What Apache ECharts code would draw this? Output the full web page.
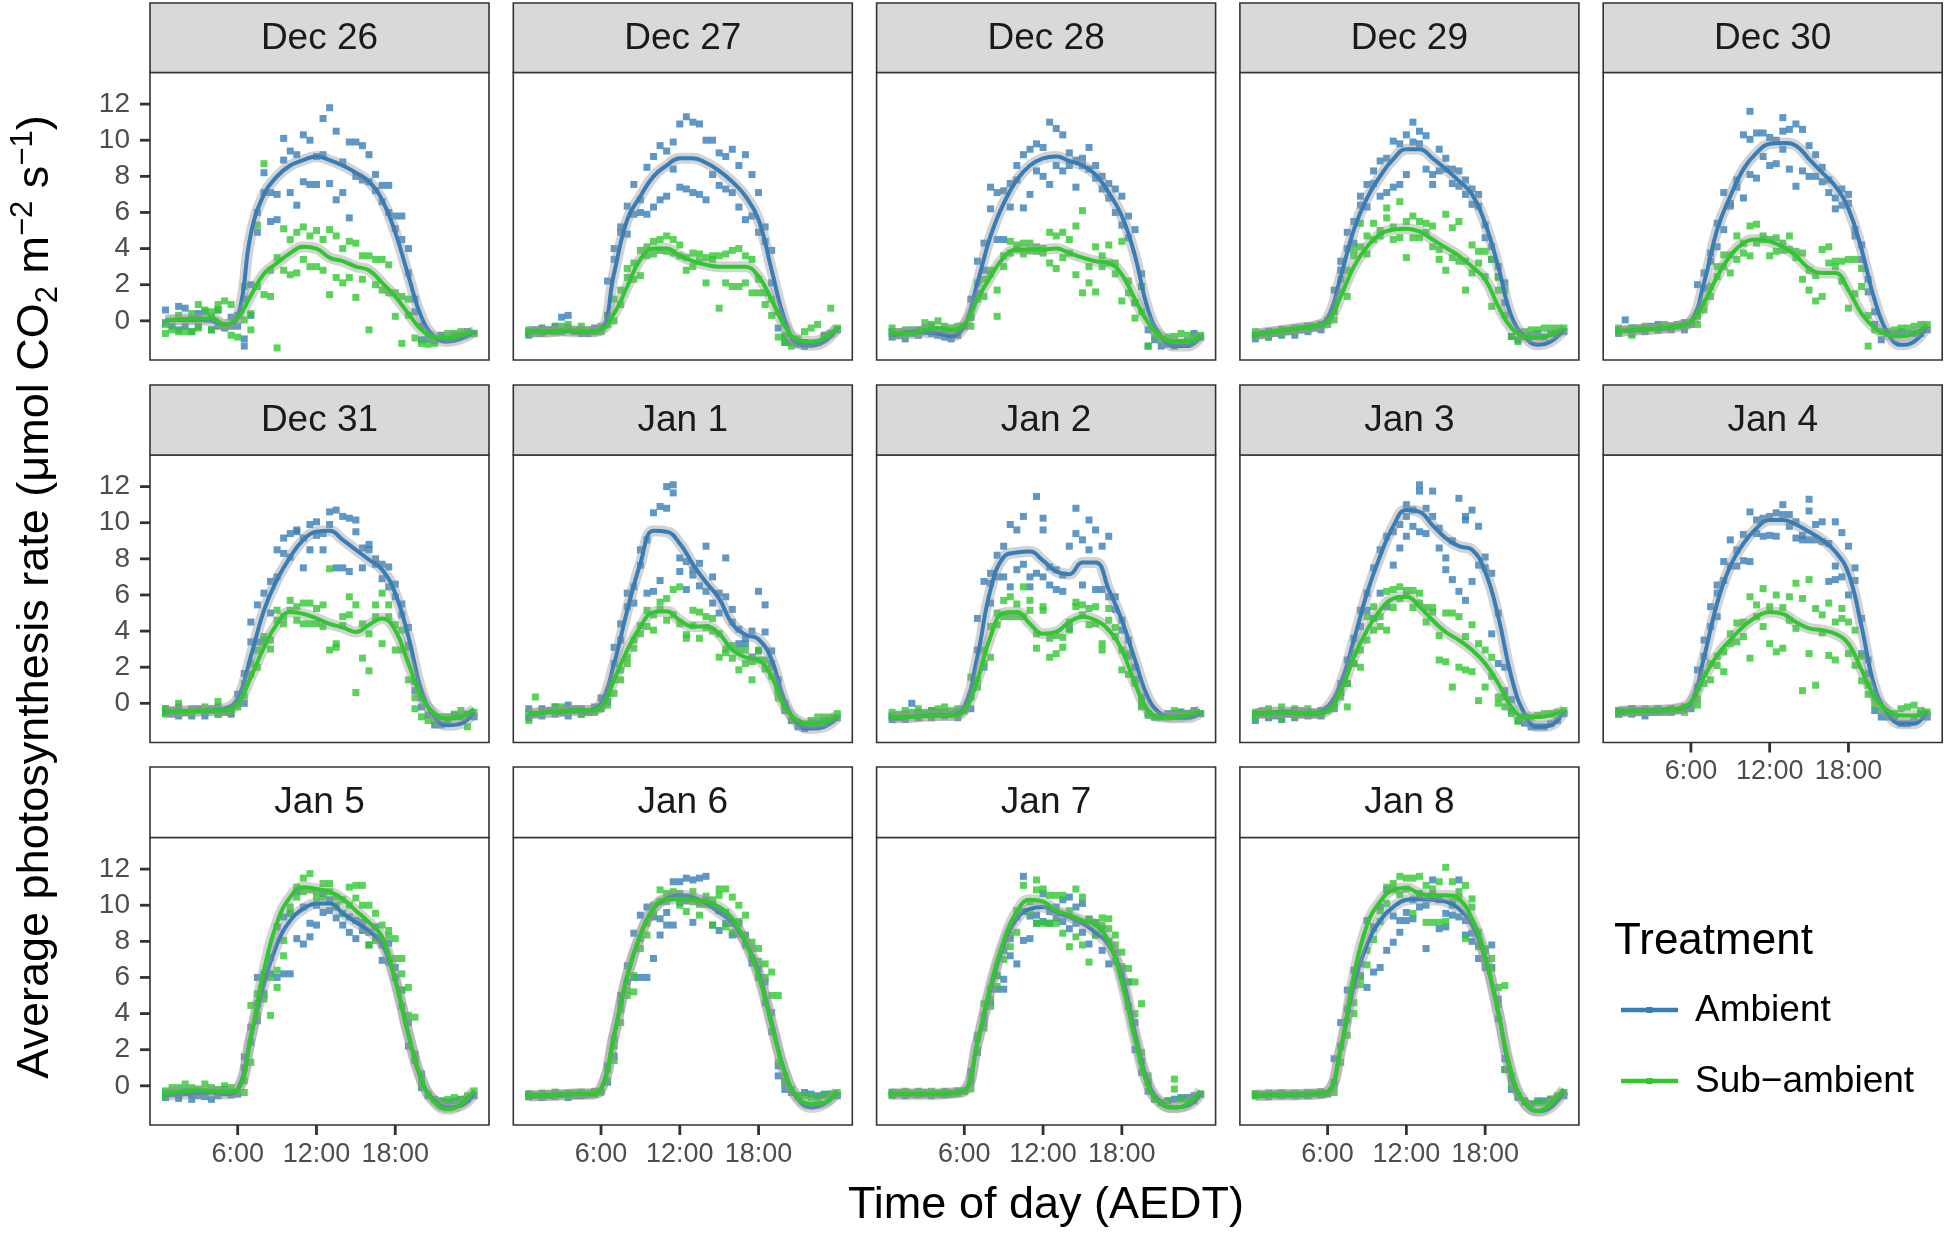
<!DOCTYPE html>
<html><head><meta charset="utf-8">
<script src="https://cdn.jsdelivr.net/npm/echarts@6/dist/echarts.min.js"></script>
<style>html,body{margin:0;padding:0;background:#fff}#c{width:1946px;height:1234px}</style>
</head><body><div id="c"></div>
<script>
// ---------- categories / ticks ----------
const panelNames = ['Dec 26','Dec 27','Dec 28','Dec 29','Dec 30','Dec 31','Jan 1','Jan 2','Jan 3','Jan 4','Jan 5','Jan 6','Jan 7','Jan 8'];
const smoothHours = [0.5,1,2,3,4,5,6,7,8,9,10,11,12,13,14,15,16,17,18,19,20,21,22,23,24];
const xTickValues = [6,12,18];
const yTickValues = [0,2,4,6,8,10,12];
const legendLabels = ['Ambient','Sub\u2212ambient'];

// ---------- smoothed curves (hourly) ----------
const dec26_amb_line=[0.05,0.05,0.05,0.05,0.0,-0.2,0.2,4.8,7.0,8.0,8.6,8.9,9.1,8.9,8.6,8.2,7.7,6.7,4.9,2.5,0.2,-0.9,-1.15,-1.0,-0.6];
const dec26_sub_line=[0.0,0.05,0.1,0.1,0.15,-0.2,0.15,1.4,2.6,3.2,3.75,4.1,4.0,3.5,3.3,3.0,2.8,2.1,1.35,0.4,-0.5,-0.9,-0.95,-0.8,-0.6];
const dec27_amb_line=[-0.6,-0.6,-0.6,-0.55,-0.6,-0.6,-0.5,2.65,5.6,6.9,8.0,8.6,9.0,9.0,8.75,8.3,7.7,6.9,5.6,2.8,0.05,-1.25,-1.35,-1.15,-0.4];
const dec27_sub_line=[-0.6,-0.6,-0.6,-0.55,-0.55,-0.6,-0.5,0.4,1.9,3.4,4.0,4.0,3.6,3.3,3.1,3.0,3.0,3.0,2.45,1.15,-0.3,-1.05,-1.15,-0.95,-0.4];
const dec28_amb_line=[-0.78,-0.75,-0.6,-0.65,-0.7,-0.85,-0.3,2.1,4.7,6.5,7.8,8.6,9.0,9.1,8.85,8.6,8.1,7.1,5.8,3.6,0.6,-0.87,-1.4,-1.4,-0.87];
const dec28_sub_line=[-0.7,-0.7,-0.7,-0.5,-0.4,-0.5,-0.2,1.2,2.45,3.5,3.95,3.95,3.95,4.0,3.75,3.5,3.3,3.2,2.55,1.2,-0.1,-0.87,-1.15,-1.15,-0.8];
const dec29_amb_line=[-0.78,-0.7,-0.6,-0.5,-0.4,-0.3,0.15,2.45,5.05,6.8,8.0,8.95,9.5,9.5,9.0,8.4,7.75,7.0,5.4,3.0,0.25,-0.87,-1.33,-1.15,-0.5];
const dec29_sub_line=[-0.78,-0.7,-0.6,-0.5,-0.4,-0.3,-0.05,1.35,3.0,4.1,4.8,5.05,5.1,4.95,4.5,4.05,3.6,3.0,2.3,0.8,-0.4,-0.87,-0.95,-0.78,-0.4];
const dec30_amb_line=[-0.6,-0.55,-0.5,-0.45,-0.4,-0.3,-0.05,2.1,5.05,6.9,8.4,9.3,9.8,9.85,9.7,8.95,8.2,7.45,6.2,3.95,1.15,-0.7,-1.33,-1.15,-0.3];
const dec30_sub_line=[-0.6,-0.55,-0.5,-0.45,-0.4,-0.3,-0.05,1.0,2.45,3.6,4.3,4.5,4.4,4.1,3.6,2.9,2.65,2.65,1.7,0.4,-0.4,-0.78,-0.87,-0.7,-0.2];
const dec31_amb_line=[-0.48,-0.45,-0.43,-0.42,-0.4,-0.3,0.25,2.6,5.15,6.85,8.1,9.05,9.5,9.55,9.05,8.5,7.95,7.4,6.1,3.7,0.7,-0.76,-1.22,-1.13,-0.48];
const dec31_sub_line=[-0.48,-0.45,-0.43,-0.42,-0.4,-0.4,0.0,1.45,3.1,4.4,5.05,4.95,4.7,4.4,4.2,3.95,4.35,4.7,4.05,2.2,0.35,-0.57,-0.85,-0.76,-0.3];
const jan1_amb_line=[-0.57,-0.55,-0.5,-0.45,-0.4,-0.4,0.0,2.2,5.15,7.75,9.55,9.5,8.85,7.7,6.7,5.8,4.4,3.8,3.55,2.4,0.1,-1.13,-1.4,-1.3,-0.76];
const jan1_sub_line=[-0.57,-0.55,-0.5,-0.45,-0.4,-0.4,-0.2,1.3,2.95,4.25,5.05,5.1,4.6,4.25,4.25,3.85,2.95,2.55,2.4,1.45,-0.2,-0.95,-1.13,-1.05,-0.67];
const jan2_amb_line=[-0.85,-0.8,-0.76,-0.7,-0.67,-0.67,-0.2,2.6,6.3,8.1,8.35,8.4,7.9,7.3,7.15,7.8,7.8,6.3,4.6,2.4,0.3,-0.6,-0.8,-0.8,-0.5];
const jan2_sub_line=[-0.76,-0.76,-0.76,-0.7,-0.67,-0.67,-0.4,1.3,3.7,5.0,5.05,4.4,3.85,3.95,4.5,4.8,4.6,4.05,2.95,1.1,-0.4,-0.76,-0.76,-0.67,-0.4];
const jan3_amb_line=[-0.57,-0.57,-0.5,-0.5,-0.57,-0.57,-0.2,1.1,3.5,6.1,8.15,9.8,10.7,10.6,9.85,9.15,8.7,8.5,7.3,4.8,1.45,-0.57,-1.3,-1.22,-0.4];
const jan3_sub_line=[-0.57,-0.57,-0.5,-0.5,-0.57,-0.57,-0.4,0.7,2.55,4.05,5.15,5.8,5.9,5.35,4.6,3.95,3.5,2.95,2.2,1.1,-0.2,-0.76,-0.76,-0.67,-0.4];
const jan4_amb_line=[-0.48,-0.45,-0.4,-0.4,-0.35,-0.3,0.0,2.55,5.55,7.6,8.85,9.7,10.15,10.15,9.9,9.5,9.05,8.4,7.2,4.25,0.9,-0.57,-1.13,-1.13,-0.4];
const jan4_sub_line=[-0.43,-0.43,-0.43,-0.4,-0.4,-0.3,0.07,1.45,2.65,3.5,4.25,4.8,5.05,4.95,4.5,4.15,4.05,3.85,3.3,1.85,0.35,-0.4,-0.67,-0.67,-0.4];
const jan5_amb_line=[-0.55,-0.5,-0.46,-0.4,-0.37,-0.46,-0.2,2.7,5.65,7.85,9.15,9.8,10.1,10.1,9.55,9.05,8.6,7.85,5.85,2.85,0.28,-0.83,-1.2,-1.1,-0.46];
const jan5_sub_line=[-0.46,-0.4,-0.3,-0.25,-0.3,-0.35,-0.2,2.7,6.4,9.05,10.45,11.0,10.9,10.75,10.35,9.7,9.05,8.25,5.85,2.85,0.37,-0.93,-1.3,-1.0,-0.28];
const jan6_amb_line=[-0.55,-0.55,-0.52,-0.5,-0.46,-0.46,-0.18,2.8,6.1,8.35,9.8,10.35,10.55,10.45,10.1,9.6,9.05,7.95,6.3,3.5,0.75,-0.74,-1.2,-1.0,-0.37];
const jan6_sub_line=[-0.55,-0.55,-0.52,-0.5,-0.46,-0.46,-0.18,2.8,6.1,8.35,9.8,10.35,10.35,10.3,10.2,9.9,9.25,7.95,6.1,3.35,0.75,-0.65,-1.0,-0.93,-0.28];
const jan7_amb_line=[-0.46,-0.46,-0.46,-0.46,-0.46,-0.4,-0.28,2.4,5.35,7.8,9.25,9.8,9.9,9.6,9.35,9.0,8.5,7.8,6.1,2.95,0.18,-0.93,-1.2,-1.1,-0.46];
const jan7_sub_line=[-0.46,-0.46,-0.46,-0.46,-0.46,-0.4,-0.28,2.4,5.55,8.0,9.65,10.3,10.2,9.7,9.45,9.15,8.9,8.0,5.75,2.6,0.0,-1.0,-1.2,-1.0,-0.28];
const jan8_amb_line=[-0.52,-0.52,-0.5,-0.5,-0.48,-0.45,-0.33,2.05,5.55,7.8,9.15,9.9,10.3,10.35,10.3,10.2,9.8,8.9,7.05,4.05,0.55,-0.93,-1.4,-1.2,-0.28];
const jan8_sub_line=[-0.52,-0.52,-0.5,-0.5,-0.48,-0.45,-0.33,2.05,6.1,8.9,10.2,10.85,10.95,10.65,10.55,10.55,10.35,9.25,7.2,4.05,0.75,-0.93,-1.4,-1.0,-0.18];

// ---------- measured points: one entry per half hour (0.5 ... 24.0), several readings where given ----------
const dec26_amb_pts=[[0.6,-0.1],-0.3,[0.8,-0.5],[0.7,-0.3],[0.1,-0.6],[0.4,-0.3],0.5,[-0.5,0.2],[0.6,-0.3],-0.4,[0.2,-0.3],[-0.3,0.3],
[-1.4,-1.0,1.2],[2.0,0.3],[6.0,4.9],[8.2,7.1],[7.1,5.5],[7.0,5.6],[10.1,8.9],[9.4,7.1],[9.2,6.4],[10.3,7.7],[10.0,7.55],[9.1,7.55],
[11.2,9.2],[11.8,7.6],[10.5,6.7],[8.8,7.1],[9.9,5.7],[9.9,8.0],[9.7,7.8],[9.2,7.7],[8.1,7.2],[7.5,6.6],[7.5,6.0],[5.8,5.1],
[5.8,4.5],[4.0,2.65],[1.2,0.5],[-1.05,-0.3],-1.0,-1.1,-0.8,-1.0,-0.8,-0.8,-0.6,-0.7];
const dec26_sub_pts=[[-0.7,-0.2],-0.5,[-0.6,0.3],-0.6,[0.4,-0.6],[0.9,-0.4],0.6,[0.5,-0.5],[0.6,0.9],[1.1,-0.3],[-0.8,0.9],-0.9,
[0.05,1.9],[-0.5,0.4],[5.3,1.9],[8.7,1.45],[1.35,2.8],[-1.5,3.5],[5.1,2.8],[2.55,4.5],[4.9,2.65],[5.2,3.4],[4.7,3.0],[3.0,5.0],
[2.8,4.5],[5.05,1.45],[2.4,4.7],[4.0,2.1],[2.4,4.4],[4.3,1.3],[2.3,3.6],[-0.5,3.6],[3.4,2.0],[1.7,3.4],[3.1,1.55],[0.25,1.55],
[-1.25,1.35],[1.2,0.3],-0.95,-1.25,-1.3,-1.25,-0.9,-0.7,-0.7,-0.6,-0.7,-0.7];
const dec27_amb_pts=[[-0.6,-0.8],-0.5,[-0.7,-0.4],-0.5,[-0.6,-0.3],[0.2,-0.6],[0.3,-0.4],-0.6,[-0.5,-0.7],-0.7,[-0.6,-0.4],-0.4,
[2.2,0.3],[4.0,3.4],[5.2,4.9],[6.35,4.8],[7.55,5.9],[6.7,6.0],[8.5,5.9],[9.1,6.3],[9.7,6.7],[9.4,6.9],[9.9,8.4],[10.9,7.4],
[11.3,7.3],[11.0,7.1],[10.9,7.0],[10.0,6.7],[10.0,8.1],[9.3,7.5],[9.1,7.3],[9.5,7.1],[8.6,6.3],[9.2,5.6],[8.1,5.8],[7.1,4.9],
[5.2,4.4],[3.9,2.1],[-0.4,0.5],[-0.9,-1.2],-1.2,-1.3,[-1.2,-1.4],-1.3,-1.2,[-1.0,-0.8],-0.7,-0.5];
const dec27_sub_pts=[[-0.5,-0.7],-0.7,[-0.5,-0.6],-0.6,[-0.4,-0.6],-0.3,[-0.2,-0.5],-0.5,[-0.6,-0.3],-0.5,-0.6,[-0.3,-0.6],
[0.3,-0.2],[1.2,0.0],[1.7,0.9],[2.9,2.4],[3.2,2.3],[3.9,2.5],[4.1,3.6],[4.4,3.7],[4.5,3.9],[4.7,3.85],[4.5,3.75],[3.6,4.2],
[3.5,2.8],[3.0,3.75],[3.7,3.3],[2.1,3.5],[3.6,3.4],[0.7,3.6],[2.1,3.7],[3.9,1.9],[4.0,1.9],[3.6,2.1],[1.55,3.4],[2.3,1.55],
[1.55,0.9],[1.2,0.3],-0.9,[-1.15,-0.8],-1.4,-1.0,-0.6,-0.4,-0.2,-0.9,0.7,-0.4];
const dec28_amb_pts=[[-0.9,-0.6],-0.8,[-0.7,-1.0],-0.7,[-0.5,-0.8],-0.6,[-0.3,-0.7],-0.8,[-0.9,-0.5],-1.0,[-0.8,-0.6],-0.3,
[1.2,0.2],[3.3,1.5],[4.3,2.8],[7.4,6.2],[7.1,4.5],[7.2,4.5],[6.3,7.6],[8.6,7.8],[9.2,6.25],[9.5,7.0],[9.8,8.3],[9.6,8.0],
[11.0,7.55],[10.65,8.6],[10.3,8.3],[8.6,9.3],[7.4,8.9],[8.6,9.0],[9.6,8.4],[8.6,7.9],[7.3,8.0],[6.8,7.6],[7.3,6.0],[6.9,5.3],
[5.8,4.6],[5.05,1.0],[1.9,2.6],[-0.5,-1.4],-1.05,-1.4,-1.3,-1.4,-1.2,-1.15,-0.7,-0.9];
const dec28_sub_pts=[[-0.7,-0.4],-0.6,[-0.5,-0.8],-0.5,-0.6,[-0.1,-0.4],-0.2,[0.0,-0.5],-0.3,[-0.6,-0.4],-0.3,-0.3,
[0.2,-0.3],[1.2,2.1],[1.35,2.3],[2.8,2.6],[0.25,1.7],[3.0,3.6],[4.4,3.75],[3.95,4.2],[4.3,3.7],[4.3,3.9],[3.85,4.1],[3.75,4.0],
[3.2,4.9],[2.9,4.7],[4.9,3.5],[3.75,4.5],[5.25,2.55],[6.1,1.55],[3.0,2.1],[4.1,1.6],[3.6,3.0],[4.2,3.2],[3.2,2.6],[4.4,1.1],
[1.55,2.2],[0.15,1.0],[1.9,0.5],-1.4,-0.87,-1.05,-0.9,-0.87,-0.7,-0.8,-0.9,-0.8];
const dec29_amb_pts=[[-0.8,-1.0],-0.7,[-0.9,-0.6],-0.7,[-0.8,-0.5],-0.6,[-0.5,-0.8],-0.5,[-0.6,-0.3],-0.4,[-0.5,-0.2],0.0,
[1.7,0.5],[3.3,2.8],[4.9,4.0],[5.5,4.3],[6.9,6.4],[7.55,6.3],[8.3,7.6],[8.85,6.9],[9.0,7.1],[9.95,7.4],[9.8,7.55],[10.3,8.1],
[11.0,9.9],[10.5,9.8],[10.25,8.4],[8.1,7.55],[9.5,8.3],[8.4,9.0],[8.4,7.6],[7.45,8.3],[7.8,7.0],[7.3,6.45],[6.35,7.0],[5.3,4.6],
[4.1,3.4],[2.45,3.0],[2.1,1.0],-0.87,-1.05,-0.87,-0.8,-0.7,-0.9,-0.7,-0.7,-0.6];
const dec29_sub_pts=[[-0.8,-0.6],-0.8,[-0.6,-0.9],-0.6,[-0.5,-0.7],-0.5,[-0.4,-0.6],-0.4,[-0.3,-0.5],-0.3,-0.2,[0.0,-0.2],
[0.05,0.7],[1.6,2.3],[1.35,2.8],[3.6,3.95],[5.4,4.1],[4.7,3.7],[5.4,4.5],[4.7,5.0],[6.25,5.7],[4.5,5.2],[6.6,4.6],[3.5,5.5],
[5.8,4.6],[5.5,4.6],[5.4,4.9],[4.1,5.25],[3.95,3.4],[5.9,2.8],[5.15,3.5],[5.5,3.3],[3.3,1.7],[4.2,2.65],[3.85,3.2],[3.85,2.45],
[3.4,0.8],[2.4,1.7],[1.7,0.3],-0.87,-1.15,-0.6,-0.5,-0.5,-0.4,-0.4,-0.4,-0.4];
const dec30_amb_pts=[[-0.7,-0.5],0.05,[-0.7,-0.4],-0.5,[-0.4,-0.6],-0.3,[-0.5,-0.2],-0.4,[-0.3,-0.5],-0.3,[-0.5,-0.1],-0.2,
[2.0,0.4],[2.65,1.8],[3.75,3.3],[5.4,4.1],[5.05,7.1],[6.5,6.35],[7.8,7.4],[10.3,6.8],[11.6,10.05,8.1],[10.4,7.9],[10.4,9.1],[8.6,10.15],
[8.7,10.0],[11.25,10.5,9.5],[10.6,8.4],[10.9,7.45],[10.6,8.3],[8.0,9.7],[9.2,8.0],[8.5,7.7],[7.1,7.8],[6.8,6.2],[7.3,6.4],[7.0,6.5],
[5.05,4.7],[4.2,3.4],[2.3,1.6],[0.5,-0.2],-1.05,-0.7,-0.7,-0.6,-0.7,-0.7,-0.7,-0.5];
const dec30_sub_pts=[[-0.6,-0.4],-0.5,[-0.8,-0.4],-0.4,[-0.5,-0.3],-0.4,[-0.3,-0.5],-0.2,[-0.3,-0.4],-0.2,-0.3,-0.1,
[0.25,-0.2],[1.0,0.6],[1.9,1.35],[2.45,3.0],[3.65,3.0],[3.65,2.65],[4.7,3.4],[3.75,4.3],[5.25,3.6],[5.35,4.3],[4.7,4.5],[3.6,4.5],
[3.85,4.6],[4.3,3.9],[4.7,3.95],[3.85,3.5],[3.75,2.3],[1.7,2.8],[1.1,2.5],[1.35,3.95],[4.1,3.2],[3.3,3.0],[3.3,2.2],[0.7,3.4],
[3.4,1.5],[2.9,1.9],[-1.4,0.3],-0.5,-0.6,-0.6,-0.5,-0.4,-0.4,-0.3,-0.2,-0.2];
const dec31_amb_pts=[[-0.5,-0.3],-0.6,[-0.2,-0.7],-0.5,[-0.4,-0.7],-0.3,[-0.5,-0.7],-0.4,[-0.2,-0.6],-0.5,[-0.3,-0.6],[0.5,0.0],
[1.65,0.0],[3.4,4.5],[5.45,3.4],[6.1,3.5],[6.75,5.0],[8.5,7.0],[9.15,8.3],[9.4,8.1],[9.5,9.6],[9.15,7.5],[9.9,8.5],[10.05,9.3],
[9.4,8.5],[10.6,9.9],[10.7,7.5],[10.35,7.5],[10.25,7.3],[10.15,9.5],[8.6,7.5],[8.5,8.8],[8.0,7.7],[6.9,7.7],[7.55,6.45],[5.9,6.6],
[5.5,4.9],[4.2,3.2],[0.7,1.2],[-0.2,0.3],-0.65,-1.2,-1.2,-1.0,-0.65,-0.75,-0.6,-0.75];
const dec31_sub_pts=[[-0.6,-0.3],-0.4,[0.0,-0.6],-0.5,[-0.3,-0.6],-0.4,[-0.2,-0.5],-0.3,[0.1,-0.6],-0.4,[-0.3,-0.5],-0.2,
[1.1,0.4],[2.2,1.6],[2.95,2.0],[3.3,3.7],[3.5,3.0],[4.6,5.15],[4.8,4.4],[5.7,5.15],[5.35,4.6],[5.55,4.4],[5.55,4.4],[5.25,4.4],
[4.25,5.45],[7.45,2.95],[3.1,3.3],[4.8,4.3],[5.9,4.9],[5.45,0.6],[2.5,4.4],[1.8,3.85],[5.45,4.8],[3.3,6.1],[5.45,4.8],[4.35,2.95],
[2.95,4.05],[3.1,1.3],[0.3,-0.3],-0.75,-0.95,-1.0,-0.75,-0.75,-0.6,-0.4,-1.3,-0.5];
const jan1_amb_pts=[[-0.3,-0.8],-0.6,[-0.3,-0.7],-0.4,[-0.2,-0.6],-0.5,[-0.1,-0.7],-0.4,[-0.3,-0.6],-0.5,[-0.4,-0.2],[0.3,-0.3],
[0.55,0.1],[2.2,3.1],[4.4,3.5],[5.35,6.1],[6.45,5.55],[7.65,8.5],[9.05,6.1],[10.55,6.2],[10.9,6.8],[10.8,12.0],[12.1,11.65],[7.3,8.05],
[7.85,6.3],[7.4,7.1],[7.75,6.5],[8.7,6.2],[5.55,7.0],[6.1,5.0],[8.05,5.9],[4.5,5.2],[3.3,4.1],[3.6,3.3],[2.55,4.0],[6.2,2.9],
[5.45,3.95],[2.2,2.9],[0.7,1.3],[0.0,-0.4],-0.95,-1.3,-1.4,-1.1,-1.1,-0.95,-0.95,-0.8];
const jan1_sub_pts=[[-0.95,-0.5],0.35,[-0.57,-0.4],-0.4,[-0.2,-0.5],-0.2,[-0.4,-0.5],-0.3,[-0.4,-0.6],-0.5,[-0.3,-0.5],-0.3,
[0.55,-0.1],[0.55,1.3],[1.85,1.3],[2.55,2.2],[3.05,3.5],[3.85,4.3],[4.25,5.15],[4.9,4.05],[5.6,5.2],[5.8,4.6],[6.3,4.9],[6.45,4.4],
[3.6,3.8],[5.15,4.3],[5.05,3.6],[4.8,4.2],[4.7,4.0],[3.85,2.55],[3.0,2.8],[3.2,2.5],[2.95,1.85],[2.95,2.2],[1.3,2.3],[2.95,2.4],
[2.4,1.9],[2.0,1.5],[0.7,0.3],-0.2,-0.95,-1.05,-1.13,-0.95,-0.76,-0.76,-0.76,-0.57];
const jan2_amb_pts=[[-0.9,-0.7],-0.8,[-0.6,-0.9],0.0,[-0.5,-0.8],-0.6,[-0.4,-0.8],-0.5,[-0.7,-0.6],-0.6,[-0.8,-0.5],-0.4,
[0.35,-0.3],[4.7,2.95],[6.75,2.0],[6.65,5.55,7.2],[8.2,7.0],[8.7,7.0],[9.9,6.45],[9.6,7.4],[10.35,7.7],[7.0,6.45],[11.45,7.2],[10.25,9.6,7.0],
[7.55,6.55],[7.4,6.3],[6.2,7.1],[8.7,4.15],[10.8,9.4],[9.05,6.55],[10.15,8.5],[9.6,6.3],[8.7,6.3],[9.25,5.9],[5.9,5.2],[4.05,4.6],
[3.5,2.6],[2.0,1.3],[0.35,-0.1],-0.57,-0.76,-0.76,-0.57,-0.57,-0.48,-0.57,-0.4,-0.57];
const jan2_sub_pts=[[-0.76,-0.5],-0.6,[-0.7,-0.4],-0.5,[-0.3,-0.6],-0.5,[-0.4,-0.7],-0.3,[-0.5,-0.2],-0.4,[-0.5,-0.3],-0.3,
[1.45,0.4],[1.3,0.9],[2.95,2.2],[2.55,4.25],[5.0,4.35],[5.7,4.8],[4.8,5.9],[4.8,5.5],[6.45,4.8],[5.7,5.15],[3.05,3.85],[5.35,5.15],
[2.55,3.6],[2.75,3.75],[3.1,3.65],[4.05,4.5],[5.35,5.6],[4.9,5.45],[5.25,4.35],[5.35,4.4],[3.3,2.95],[5.25,4.6],[3.7,4.2],[2.95,1.85],
[2.75,1.6],[1.1,1.3],[0.0,-0.2],-0.67,-0.76,-0.76,-0.76,-0.4,-0.5,-0.57,-0.57,-0.57];
const jan3_amb_pts=[[-0.6,-0.95],-0.6,[-0.8,-0.5],-0.7,[-0.5,-0.9],-0.6,[-0.4,-0.8],-0.6,[-0.7,-0.5],-0.6,[-0.4,-0.7],-0.3,
[0.0,-0.3],[1.1,0.6],[2.4,1.1],[3.6,2.2],[5.15,4.25],[6.1,5.15],[7.5,4.7],[8.5,6.1],[9.25,5.35],[9.5,7.65],[9.9,8.6],[11.0,10.35,9.25],
[10.7,9.8],[12.1,11.75,9.5],[10.8,9.4],[11.75,10.35],[9.7,8.6],[8.05,7.4],[6.85,9.0],[6.2,11.35],[10.15,5.7,10.35],[10.7,6.75],[9.8,7.65],[8.1,7.5],
[7.2,3.85],[5.0,2.2],[0.7,2.0],[-0.4,0.2],-0.95,-1.1,-1.3,-1.3,-1.3,-1.13,-0.95,-0.57];
const jan3_sub_pts=[[-0.5,-0.8],-0.4,[-0.7,-0.3],-0.6,[-0.2,-0.8],-0.5,[-0.3,-0.7],-0.4,[-0.6,-0.3],-0.5,[-0.4,-0.6],-0.4,
[-0.2,0.1],[0.35,0.9],[-0.2,1.1],[2.2,2.75],[2.95,2.0],[3.5,4.8],[4.05,5.35],[4.8,4.25],[6.2,4.05],[6.3,5.3],[6.45,5.8],[6.25,6.0],
[6.25,5.3],[6.1,5.55],[5.3,4.5],[5.05,5.3],[2.4,3.75],[2.3,5.0],[0.9,5.0],[4.8,2.0],[1.85,3.7],[4.35,1.75],[0.15,3.3],[2.95,0.9],
[2.55,1.5],[0.0,0.35],[0.35,-0.2],-0.57,-1.0,-0.76,-0.76,-0.67,-0.57,-0.57,-0.5,-0.4];
const jan4_amb_pts=[[-0.6,-0.4],-0.5,[-0.3,-0.6],-0.5,[-0.4,-0.7],-0.5,[-0.3,-0.5],-0.4,[-0.5,-0.3],-0.4,[-0.3,-0.2],-0.3,
[1.85,0.9],[3.5,2.6],[5.35,4.25],[6.1,4.8,6.55],[7.85,6.8],[9.05,7.6],[8.5,7.6],[9.35,7.9],[10.6,7.85],[10.15,9.4],[10.25,9.25],[10.35,9.3],
[10.55,9.25],[11.0,10.45],[10.45,9.8],[10.05,9.15],[9.05,9.3],[11.3,10.65,9.05],[9.9,9.05],[10.05,8.95],[8.85,6.75],[10.05,7.6,6.85],[9.45,7.0],[8.7,6.0],
[7.5,6.8],[4.7,2.75],[1.65,2.4],[-0.4,0.5],-0.76,-0.76,-0.76,-1.13,-1.13,-0.85,-0.57,-0.76];
const jan4_sub_pts=[[-0.4,-0.6],-0.4,[-0.5,-0.3],-0.4,[-0.3,-0.5],-0.4,[-0.4,-0.3],-0.5,[-0.3,-0.4],-0.4,[-0.3,-0.5],-0.2,
[0.25,-0.1],[1.65,1.1],[2.2,1.3],[2.1,2.6],[2.85,1.75],[3.85,3.3],[4.45,3.4],[4.5,3.7],[2.5,5.9],[5.45,4.8],[6.35,4.25],[3.3,5.35],
[6.0,2.85],[3.05,5.3],[5.9,4.6],[6.65,4.15],[5.8,0.7],[6.85,2.75],[1.0,5.25],[4.9,3.9],[5.55,2.65],[2.4,4.5],[5.25,4.7],[4.5,2.75],
[4.05,2.1],[1.25,2.6],[1.0,0.5],[0.25,-0.1],-0.4,-0.57,-0.57,-0.3,-0.2,-0.1,-0.4,-0.48];
const jan5_amb_pts=[[-0.65,-0.4],-0.37,[-0.55,-0.7],-0.28,[-0.75,-0.5],-0.55,[-0.37,-0.6],-0.75,[-0.55,-0.4],-0.2,[-0.37,-0.5],-0.46,
[1.0,1.6],[3.25,2.4],[4.55,3.6,6.0],[6.2,5.1],[7.1,6.2],[8.8,6.0],[6.2,9.35],[6.2,9.55],[10.75,8.15],[7.85,9.9],[8.25,9.0],[8.9,10.0],
[10.65,9.6],[10.3,9.7],[9.9,9.3],[8.9,9.55],[8.5,9.35],[8.15,9.15],[9.05,8.6],[7.8,8.5],[8.8,8.2],[6.95,7.8],[6.85,7.9],[6.0,6.55],
[5.3,4.4],[3.5,2.2],[1.4,1.75],[0.65,-0.1],-0.55,-0.75,-0.85,-0.9,-0.85,-0.75,-0.75,-0.55];
const jan5_sub_pts=[[-0.28,-0.55],-0.1,[-0.1,-0.4],0.1,[-0.1,-0.3],-0.2,[0.1,-0.3],-0.1,[-0.37,-0.2],0.0,[-0.1,-0.4],-0.37,
[0.28,-0.37],[1.3,4.45],[5.1,3.9],[5.0,4.8],[3.9,6.0],[5.45,6.4],[8.05,7.2],[9.55,9.9],[11.0,10.45],[11.5,10.75],[11.75,10.85],[10.75,10.4],
[11.2,10.45],[11.2,10.75],[10.45,10.0],[10.3,9.55],[11.0,10.0],[11.1,10.4],[11.1,10.0],[10.0,7.8],[9.55,8.05],[8.9,7.9],[8.6,8.3],[8.15,7.05],
[7.05,6.2,5.3],[5.45,3.9],[3.8,1.4],[0.0,0.28],-0.46,-0.75,-0.83,-0.75,-0.65,-0.75,-0.55,-0.28];
const jan6_amb_pts=[[-0.6,-0.45],-0.55,[-0.45,-0.65],-0.55,[-0.6,-0.4],-0.5,[-0.65,-0.45],-0.55,[-0.4,-0.55],-0.5,[-0.45,-0.35],-0.35,
[0.2,1.1],[1.65,2.6],[5.0,4.6],[6.65,5.75],[8.45,6.0],[9.45,6.0],[9.9,6.0],[9.35,7.05],[8.35,9.25],[8.9,9.6],[11.3,8.9],[11.3,10.15],
[11.5,10.25],[11.4,9.05],[11.5,10.15],[11.6,10.25],[8.9,10.0],[8.6,9.7],[9.6,9.0],[9.0,8.35],[9.0,8.4],[8.35,7.8],[7.05,6.8],[6.5,6.0],
[5.75,4.6],[4.05,3.0],[1.1,0.55],[0.2,-0.2],-0.37,-0.55,-0.37,-0.46,-0.55,-0.46,-0.46,-0.55];
const jan6_sub_pts=[[-0.45,-0.6],-0.5,[-0.4,-0.55],-0.45,[-0.5,-0.35],-0.45,[-0.55,-0.4],-0.4,[-0.35,-0.5],-0.4,[-0.3,-0.45],-0.3,
[0.9,0.3],[1.4,2.2],[3.5,4.2],[5.0,5.3],[6.1,5.2],[7.6,8.15],[8.35,9.0],[10.0,9.5],[10.2,10.85],[10.65,10.2],[10.75,10.4],[10.65,10.0],
[9.65,10.45],[10.75,10.2],[9.45,10.05],[10.05,10.5],[8.9,10.3],[10.9,10.55],[10.9,8.8],[10.45,8.5],[10.0,9.1],[9.45,8.2],[7.95,7.6],[7.6,6.9],
[6.75,6.0],[6.3,5.0],[5.0,1.3],[0.55,0.2],-0.2,-0.55,-0.55,-0.65,-0.74,-0.55,-0.46,-0.37];
const jan7_amb_pts=[[-0.5,-0.35],-0.46,[-0.4,-0.55],-0.46,[-0.5,-0.37],-0.46,[-0.4,-0.55],-0.46,[-0.37,-0.5],-0.46,[-0.4,-0.3],-0.28,
[0.2,0.8],[1.85,2.6],[3.9,3.5],[5.35,4.6],[6.1,5.35],[7.5,5.9,5.35],[8.15,7.2],[9.35,6.75],[11.6,9.65,8.05],[8.15,9.4],[9.0,9.45],[10.65,9.1],
[9.65,9.0],[9.9,9.3],[10.3,9.1],[10.45,8.7],[9.0,9.9],[8.5,10.1],[7.85,9.2],[8.35,9.0],[8.7,7.5],[6.75,8.0],[7.4,6.9],[6.1,6.5],
[5.75,4.4],[3.5,2.0],[0.75,1.4],[0.2,-0.3],-0.74,-0.93,-0.83,-0.74,-0.65,-0.65,-0.55,-0.46];
const jan7_sub_pts=[[-0.4,-0.55],-0.37,[-0.46,-0.3],-0.4,[-0.3,-0.46],-0.37,[-0.3,-0.5],-0.4,[-0.3,-0.46],-0.37,[-0.3,-0.4],-0.3,
[-0.18,0.5],[2.0,2.8],[4.55,3.2],[4.8,4.4],[6.1,5.5],[7.6,7.0],[8.35,7.7],[8.5,9.7],[11.1,9.65],[9.65,10.2],[11.4,10.85,9.0],[10.9,9.0],
[10.55,9.0],[10.55,9.0],[10.55,8.45],[7.7,9.7],[10.9,8.25],[10.45,7.8],[9.25,6.85],[9.05,8.35],[9.3,8.9],[9.25,8.7],[8.35,7.8],[7.4,6.6],
[6.5,5.75],[5.75,4.0],[4.55,1.85],[0.55,0.2],-0.74,-0.93,-0.83,[0.37,-0.18],-0.74,-0.83,-0.83,-0.46];
const jan8_amb_pts=[[-0.55,-0.45],-0.5,[-0.45,-0.6],-0.5,[-0.55,-0.4],-0.5,[-0.45,-0.55],-0.5,[-0.4,-0.55],-0.45,[-0.5,-0.35],-0.45,
[1.5,0.2],[3.5,2.2],[5.3,4.25],[6.4,5.55],[6.75,6.1],[9.15,5.45],[8.8,6.3],[9.9,6.55],[10.85,7.5],[7.95,9.4],[9.15,8.5],[9.15,9.6],
[9.25,10.3],[10.65,9.9],[7.6,10.0],[11.4,10.6],[8.7,10.3],[9.55,8.8],[9.45,10.0],[11.4,9.35],[9.15,8.35],[8.45,8.0],[7.05,7.8],[6.55,7.5],
[7.8,6.55],[4.8,3.7],[1.5,0.9],[0.37,-0.2],-0.65,-0.83,-1.0,-0.83,-0.83,-0.74,-0.65,-0.55];
const jan8_sub_pts=[[-0.45,-0.55],-0.5,[-0.4,-0.5],-0.45,[-0.5,-0.4],-0.45,[-0.4,-0.5],-0.45,[-0.4,-0.5],-0.4,[-0.45,-0.35],-0.4,
[0.0,-0.37],[1.3,2.2],[2.8,3.6],[4.6,4.0],[6.0,5.6],[7.5,6.7],[8.7,8.1],[9.7,9.1],[10.1,11.0],[10.85,11.2],[11.6,10.6],[11.5,10.9],
[11.5,9.55],[11.6,10.4],[11.1,9.05],[10.9,9.05],[11.3,9.05],[12.1,9.1],[11.3,10.2],[10.75,10.4],[11.1,8.15],[10.35,9.9],[7.7,8.5],[6.95,7.6],
[7.05,6.5],[5.45,4.5],[5.55,0.9],[0.55,0.0],-0.55,-0.93,-1.0,-0.93,-0.93,-0.74,-0.55,-0.37];

const panelSeries = [
  [dec26_amb_line, dec26_sub_line, dec26_amb_pts, dec26_sub_pts],
  [dec27_amb_line, dec27_sub_line, dec27_amb_pts, dec27_sub_pts],
  [dec28_amb_line, dec28_sub_line, dec28_amb_pts, dec28_sub_pts],
  [dec29_amb_line, dec29_sub_line, dec29_amb_pts, dec29_sub_pts],
  [dec30_amb_line, dec30_sub_line, dec30_amb_pts, dec30_sub_pts],
  [dec31_amb_line, dec31_sub_line, dec31_amb_pts, dec31_sub_pts],
  [jan1_amb_line, jan1_sub_line, jan1_amb_pts, jan1_sub_pts],
  [jan2_amb_line, jan2_sub_line, jan2_amb_pts, jan2_sub_pts],
  [jan3_amb_line, jan3_sub_line, jan3_amb_pts, jan3_sub_pts],
  [jan4_amb_line, jan4_sub_line, jan4_amb_pts, jan4_sub_pts],
  [jan5_amb_line, jan5_sub_line, jan5_amb_pts, jan5_sub_pts],
  [jan6_amb_line, jan6_sub_line, jan6_amb_pts, jan6_sub_pts],
  [jan7_amb_line, jan7_sub_line, jan7_amb_pts, jan7_sub_pts],
  [jan8_amb_line, jan8_sub_line, jan8_amb_pts, jan8_sub_pts]
];

// ---------- styling / layout ----------
const FONT = "'Liberation Sans', Arial, Helvetica, sans-serif";
const BLUE = '#377EB8', GREEN = '#2FC82F';
const BAND = 'rgba(150,150,150,0.42)';
const TICK_COLOR = '#333333', TICK_LEN = 10, TICK_W = 2.8;
const COL_LEFT = 150, COL_PITCH = 363.3, PW = 339, PH = 287.5;
const STRIP_TOP = [3, 385, 767];
const PLOT_TOP = [72.5, 455, 837.5];
const X_MIN = -0.68, X_MAX = 25.14, Y_MIN = -2.17, Y_MAX = 13.75;

panelSeries.forEach((p, i) => {
  p.forEach((a, j) => { const n = j < 2 ? smoothHours.length : 48; if (a.length !== n) throw new Error(panelNames[i] + ' array ' + j + ' has ' + a.length); });
});

function toPoints(arr) {
  const out = [];
  arr.forEach((v, k) => { const h = 0.5 * (k + 1); (Array.isArray(v) ? v : [v]).forEach(y => out.push([h, y])); });
  return out;
}
function toLine(arr) { return smoothHours.map((h, k) => [h, arr[k]]); }

const grids = [], xAxes = [], yAxes = [], series = [], graphics = [], panelFlags = [];
panelNames.forEach((name, i) => {
  const r = Math.floor(i / 5), c = i % 5;
  const left = COL_LEFT + c * COL_PITCH, top = PLOT_TOP[r];
  const showX = r === 2 || (r === 1 && c === 4);
  const showY = c === 0;
  panelFlags.push({ showX, showY });
  grids.push({ left, top, width: PW, height: PH, show: true, borderColor: '#333', borderWidth: 1.6 });
  xAxes.push({
    gridIndex: i, type: 'value', min: X_MIN, max: X_MAX, position: 'bottom',
    axisLine: { show: false, onZero: false }, splitLine: { show: false }, axisTick: { show: false },
    axisLabel: { show: showX, customValues: xTickValues, formatter: v => v + ':00', fontSize: 27, color: '#4D4D4D', fontFamily: FONT, margin: 16 }
  });
  yAxes.push({
    gridIndex: i, type: 'value', min: Y_MIN, max: Y_MAX, position: 'left',
    axisLine: { show: false, onZero: false }, splitLine: { show: false }, axisTick: { show: false },
    axisLabel: { show: showY, customValues: yTickValues, fontSize: 28, color: '#4D4D4D', fontFamily: FONT, margin: 20 }
  });
  const [aLine, gLine, aPts, gPts] = panelSeries[i];
  const common = { xAxisIndex: i, yAxisIndex: i, silent: true, animation: false };
  series.push({ ...common, type: 'scatter', name: legendLabels[0], data: toPoints(aPts), symbol: 'rect', symbolSize: 7, itemStyle: { color: BLUE } });
  series.push({ ...common, type: 'scatter', name: legendLabels[1], data: toPoints(gPts), symbol: 'rect', symbolSize: 7, itemStyle: { color: GREEN } });
  [[aLine, BLUE], [gLine, GREEN]].forEach(([ln, col]) => {
    series.push({ ...common, type: 'line', data: toLine(ln), smooth: 0.45, showSymbol: false, lineStyle: { color: BAND, width: 11 } });
    series.push({ ...common, type: 'line', data: toLine(ln), smooth: 0.45, showSymbol: false, lineStyle: { color: col, width: 4 } });
  });
  graphics.push({ type: 'rect', shape: { x: left, y: STRIP_TOP[r], width: PW, height: top - STRIP_TOP[r] },
    style: { fill: r === 2 ? '#FFFFFF' : '#D9D9D9', stroke: '#333', lineWidth: 1.6 } });
  graphics.push({ type: 'text', x: left + PW / 2, y: (STRIP_TOP[r] + top) / 2 + 1,
    style: { text: name, fill: '#1A1A1A', font: '37px ' + FONT, align: 'center', verticalAlign: 'middle' } });
});

// axis titles
graphics.push({ type: 'text', x: 1046, y: 1206,
  style: { text: 'Time of day (AEDT)', fill: '#000', font: '45px ' + FONT, align: 'center', verticalAlign: 'middle' } });
graphics.push({ type: 'text', x: 36, y: 597, rotation: Math.PI / 2,
  style: {
    text: '{a|Average photosynthesis rate (\u03BCmol CO}{s|2}{a| m}{p|\u22122}{a| s}{p|\u22121}{a|)}',
    align: 'center', verticalAlign: 'middle',
    rich: {
      a: { fontSize: 45, fontFamily: FONT, fill: '#000', lineHeight: 56 },
      s: { fontSize: 31, fontFamily: FONT, fill: '#000', lineHeight: 32, verticalAlign: 'bottom' },
      p: { fontSize: 31, fontFamily: FONT, fill: '#000', lineHeight: 32, verticalAlign: 'top' }
    }
  } });

// legend
graphics.push({ type: 'text', x: 1614, y: 942, style: { text: 'Treatment', fill: '#000', font: '44px ' + FONT, align: 'left', verticalAlign: 'middle' } });
[[BLUE, 1010, legendLabels[0]], [GREEN, 1081, legendLabels[1]]].forEach(([col, y, lab]) => {
  graphics.push({ type: 'line', shape: { x1: 1621, y1: y, x2: 1678, y2: y }, style: { stroke: col, lineWidth: 4.5 } });
  graphics.push({ type: 'rect', shape: { x: 1646.5, y: y - 3, width: 6, height: 6 }, style: { fill: col } });
  graphics.push({ type: 'text', x: 1695, y: y + 1, style: { text: lab, fill: '#000', font: '37px ' + FONT, align: 'left', verticalAlign: 'middle' } });
});

const chart = echarts.init(document.getElementById('c'), null, { width: 1946, height: 1234 });
chart.setOption({ animation: false, backgroundColor: '#fff', grid: grids, xAxis: xAxes, yAxis: yAxes, series, graphic: graphics });

// axis tick marks: positioned through each panel's own axis scales
const tickGraphics = [];
panelFlags.forEach((f, i) => {
  if (f.showX) xTickValues.forEach(v => {
    const [px, py] = chart.convertToPixel({ gridIndex: i }, [v, Y_MIN]);
    tickGraphics.push({ type: 'line', z: 100, shape: { x1: px, y1: py, x2: px, y2: py + TICK_LEN }, style: { stroke: TICK_COLOR, lineWidth: TICK_W } });
  });
  if (f.showY) yTickValues.forEach(v => {
    const [px, py] = chart.convertToPixel({ gridIndex: i }, [X_MIN, v]);
    tickGraphics.push({ type: 'line', z: 100, shape: { x1: px - TICK_LEN, y1: py, x2: px, y2: py }, style: { stroke: TICK_COLOR, lineWidth: TICK_W } });
  });
});
chart.setOption({ graphic: graphics.concat(tickGraphics) });
</script>
</body></html>
